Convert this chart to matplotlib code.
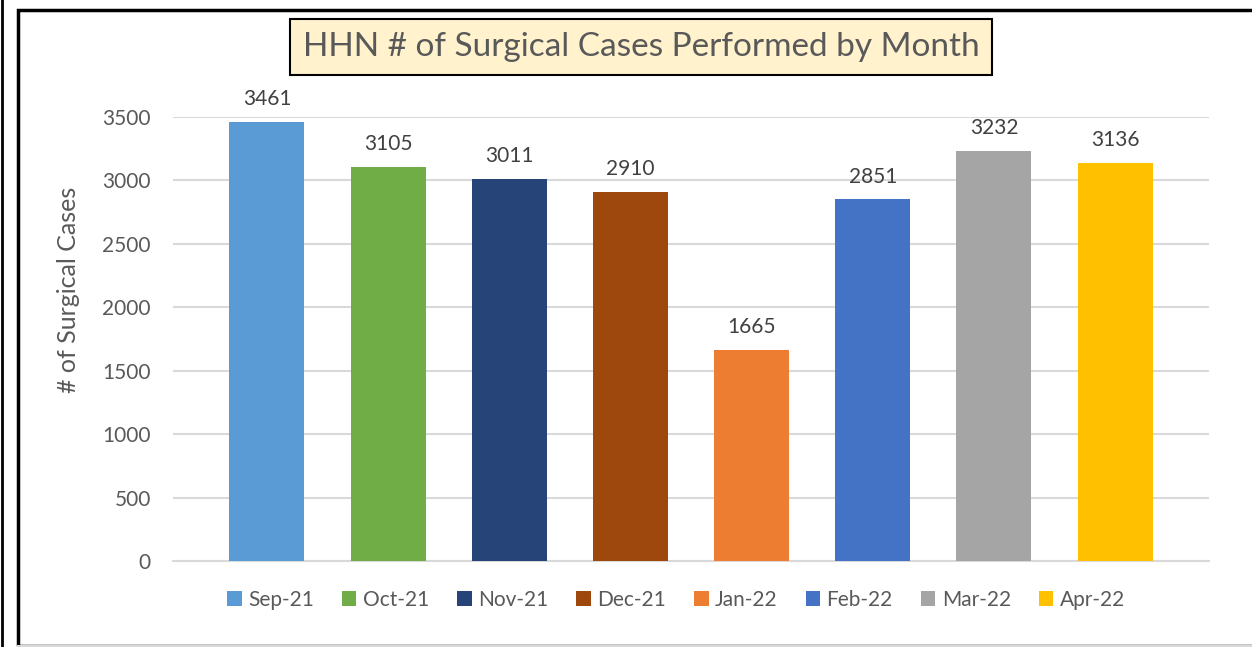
import matplotlib.pyplot as plt
from matplotlib.patches import Rectangle, Patch

months = ["Sep-21", "Oct-21", "Nov-21", "Dec-21", "Jan-22", "Feb-22", "Mar-22", "Apr-22"]
cases = [3461, 3105, 3011, 2910, 1665, 2851, 3232, 3136]
colors = ["#5B9BD5", "#70AD47", "#264478", "#9E480E", "#ED7D31", "#4472C4", "#A5A5A5", "#FFC000"]
yticks = [0, 500, 1000, 1500, 2000, 2500, 3000, 3500]

plt.rcParams['font.family'] = ['Lato', 'DejaVu Sans']

W, H = 1252, 647
fig = plt.figure(figsize=(W / 100, H / 100), dpi=100)
ax = fig.add_axes([173 / W, 1 - 561 / H, (1209 - 173) / W, (561 - 117) / H])

x = list(range(len(months)))
ax.bar(x, cases, width=0.62, color=colors, zorder=3)
for xi, v in zip(x, cases):
    ax.text(xi, v + 100, str(v), ha='center', va='bottom', fontsize=15, color='#404040')

ax.set_xlim(-0.775, 7.775)
ax.set_ylim(0, 3500)
ax.set_yticks(yticks)
ax.set_xticks([])
ax.grid(axis='y', color='#D9D9D9', linewidth=1.5, zorder=0)
for s in ['top', 'right', 'left']:
    ax.spines[s].set_visible(False)
ax.spines['bottom'].set_color('#D9D9D9')
ax.spines['bottom'].set_linewidth(1.5)
ax.tick_params(axis='y', length=0, labelsize=15, labelcolor='#595959', pad=16)

fig.text(68 / W, 1 - 290 / H, "# of Surgical Cases", rotation=90, ha='center', va='center',
         fontsize=18, color='#595959')

handles = [Patch(facecolor=c, label=m) for c, m in zip(colors, months)]
fig.legend(handles=handles, loc='center', bbox_to_anchor=(676 / W, 1 - 600 / H), ncol=8,
           frameon=False, fontsize=15, labelcolor='#595959', handlelength=0.7, handleheight=0.7,
           handletextpad=0.3, columnspacing=1.35)

fig.text(641 / W, 1 - 47 / H, "HHN # of Surgical Cases Performed by Month", ha='center', va='center',
         fontsize=24, color='#595959',
         bbox=dict(boxstyle='square,pad=0.38', facecolor='#FFF2CC', edgecolor='black', linewidth=1.5))

# outer frame
fig.add_artist(Rectangle((18 / W, 1 / H), 1.2, 1 - 11 / H, transform=fig.transFigure,
                         fill=False, edgecolor='black', linewidth=2.5))
fig.add_artist(plt.Line2D([1.5 / W, 1.5 / W], [0, 1], transform=fig.transFigure, color='black', linewidth=2))
fig.add_artist(plt.Line2D([18 / W, 1], [1.5 / H, 1.5 / H], transform=fig.transFigure, color='#D9D9D9', linewidth=1.5))

fig.savefig("out.png", dpi=100)
